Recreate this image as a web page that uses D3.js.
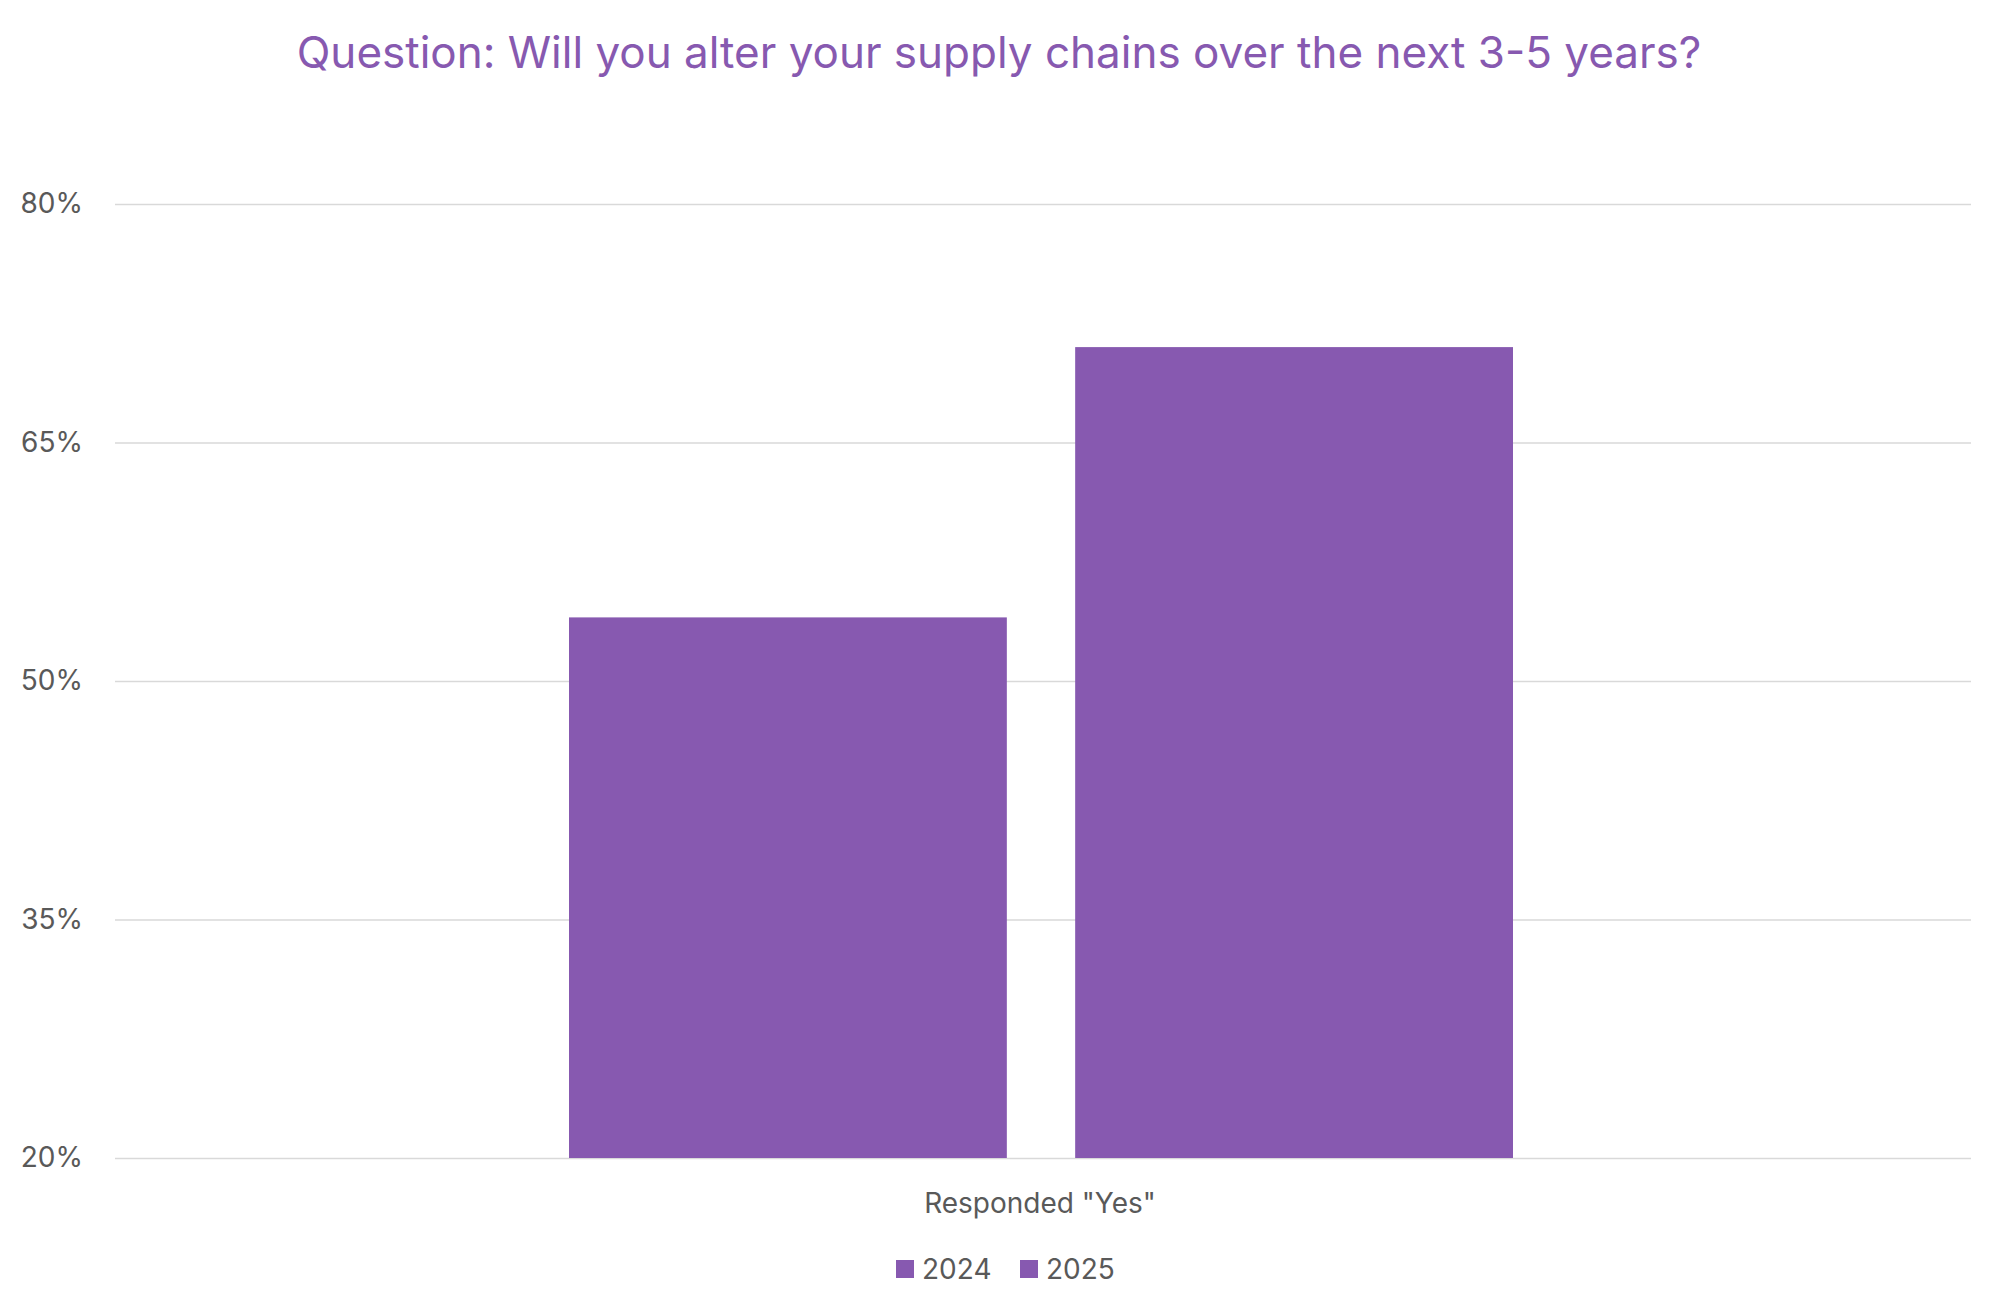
<!DOCTYPE html>
<html><head><meta charset="utf-8">
<script src="https://cdn.jsdelivr.net/npm/d3@7"></script>
<style>body{margin:0;background:#fff}</style>
</head><body>
<svg id="c" width="2000" height="1315"></svg>
<script>
const categories = ['Responded "Yes"'];
const seriesNames = ["2024", "2025"];
const values2024 = [54];
const values2025 = [71];
const yTicks = [20, 35, 50, 65, 80];
const color = "#8759B0";
const font = "Inter, 'Open Sans', sans-serif";

const svg = d3.select("#c");
const m = {l:115, r:1971, t:204, b:1158};
const y = d3.scaleLinear().domain([20,80]).range([m.b, m.t]);
const x0 = d3.scaleBand().domain(categories).range([m.l, m.r]);
const x1 = d3.scaleBand().domain(seriesNames).range([454, 1398]).paddingInner(0.135);

svg.append("text").attr("x",999).attr("y",68).attr("text-anchor","middle")
  .attr("font-family",font).attr("font-size",44).attr("fill",color)
  .text("Question: Will you alter your supply chains over the next 3-5 years?");

const yAxis = d3.axisLeft(y).tickValues(yTicks).tickFormat(d=>d+"%").tickSize(-(m.r-m.l)).tickPadding(30);
const g = svg.append("g").attr("transform",`translate(${m.l},0)`).call(yAxis);
g.select(".domain").remove();
g.selectAll(".tick line").attr("stroke","#d9d9d9").attr("stroke-width",1.5);
g.selectAll(".tick text").attr("font-family",font).attr("font-size",28).attr("fill","#595959").attr("x",-32);

const data = categories.map((c,i)=>({c, vals:[{s:"2024",v:values2024[i]},{s:"2025",v:values2025[i]}]}));
const gr = svg.append("g");
data.forEach(d=>{
  gr.selectAll(null).data(d.vals).enter().append("rect")
    .attr("x",e=>x0(d.c)+x1(e.s)).attr("width",x1.bandwidth())
    .attr("y",e=>y(e.v)).attr("height",e=>y(20)-y(e.v)).attr("fill",color);
  svg.append("text").attr("x",x0(d.c)+x0.bandwidth()/2-3).attr("y",1213).attr("text-anchor","middle")
    .attr("font-family",font).attr("font-size",28).attr("fill","#595959").text(d.c);
});

const lg = svg.append("g");
const lx = [896, 1020];
seriesNames.forEach((s,i)=>{
  lg.append("rect").attr("x",lx[i]).attr("y",1260).attr("width",18).attr("height",18).attr("fill",color);
  lg.append("text").attr("x",lx[i]+26).attr("y",1279).attr("font-family",font).attr("font-size",28).attr("fill","#595959").text(s);
});
</script>
</body></html>
